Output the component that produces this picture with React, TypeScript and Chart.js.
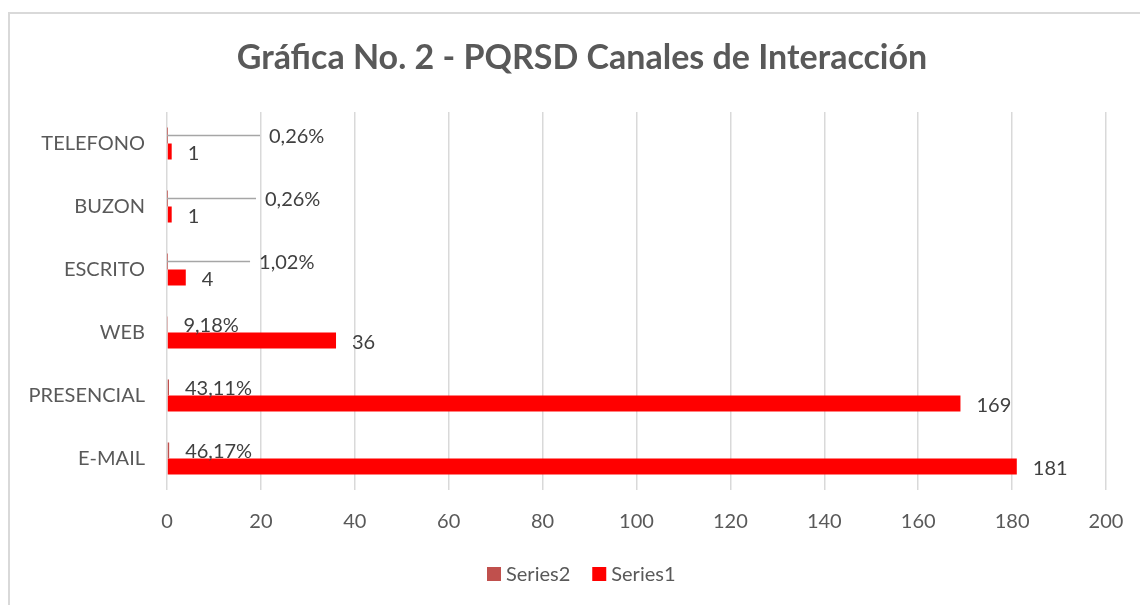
import React, { useEffect, useRef } from 'react';
import { Chart, registerables } from 'chart.js';

Chart.register(...registerables);

const categories = ['TELEFONO', 'BUZON', 'ESCRITO', 'WEB', 'PRESENCIAL', 'E-MAIL'];
const series1Values = [1, 1, 4, 36, 169, 181];
const series2Values = [0.0026, 0.0026, 0.0102, 0.0918, 0.4311, 0.4617];
const seriesNames = ['Series2', 'Series1'];
const xMin = 0;
const xMax = 200;
const xStep = 20;
const chartTitle = 'Gráfica No. 2 - PQRSD Canales de Interacción';

const FONT = 'Lato, "Noto Sans", sans-serif';
const TEXT = '#595959';
const LABEL = '#404040';
const COLORS = ['#C0504D', '#FF0000'];
const W = 1140;
const H = 605;

const fmtPct = (v: number) => (v * 100).toFixed(2).replace('.', ',') + '%';

const decorPlugin = {
  id: 'decor',
  beforeDraw(chart: any) {
    const ctx = chart.ctx;
    ctx.save();
    ctx.fillStyle = '#ffffff';
    ctx.fillRect(0, 0, W, H);
    ctx.strokeStyle = '#d9d9d9';
    ctx.lineWidth = 2;
    ctx.beginPath();
    ctx.moveTo(9, H);
    ctx.lineTo(9, 13);
    ctx.lineTo(W, 13);
    ctx.stroke();

    ctx.fillStyle = TEXT;
    ctx.font = `bold 34px ${FONT}`;
    ctx.textAlign = 'center';
    ctx.textBaseline = 'middle';
    ctx.fillText(chartTitle, 582, 58);

    // legend
    ctx.font = `20px ${FONT}`;
    ctx.textAlign = 'left';
    let x = 487;
    const y = 574;
    chart.data.datasets.forEach((ds: any) => {
      ctx.fillStyle = ds.backgroundColor;
      ctx.fillRect(x, y - 7, 14, 14);
      x += 19;
      ctx.fillStyle = TEXT;
      ctx.fillText(ds.label, x, y + 1);
      x += ctx.measureText(ds.label).width + 22;
    });
    ctx.restore();
  },
  afterDatasetsDraw(chart: any, _args: any, opts: any) {
    const ctx = chart.ctx;
    const shifts: number[] = opts.pctShift || [];
    ctx.save();
    ctx.font = `20px ${FONT}`;
    ctx.textAlign = 'left';
    ctx.textBaseline = 'middle';
    ctx.fillStyle = LABEL;
    // Series1 labels (dataset 1)
    const m1 = chart.getDatasetMeta(1);
    m1.data.forEach((el: any, i: number) => {
      ctx.fillStyle = LABEL;
      ctx.fillText(String(chart.data.datasets[1].data[i]), el.x + 16, el.y + 2);
    });
    // Series2 labels (dataset 0)
    const m0 = chart.getDatasetMeta(0);
    m0.data.forEach((el: any, i: number) => {
      const v = chart.data.datasets[0].data[i] as number;
      const shift = shifts[i] || 0;
      let lx = el.x + 16;
      if (shift) {
        lx = el.x + shift;
        ctx.strokeStyle = '#a6a6a6';
        ctx.lineWidth = 1.5;
        ctx.beginPath();
        ctx.moveTo(el.x, el.y);
        ctx.lineTo(lx - 9, el.y);
        ctx.stroke();
      }
      ctx.fillStyle = LABEL;
      ctx.fillText(fmtPct(v), lx, el.y + 1);
    });
    ctx.restore();
  },
};

export default function App() {
  const ref = useRef<HTMLCanvasElement>(null);
  useEffect(() => {
    if (!ref.current) return;
    const chart = new Chart(ref.current, {
      type: 'bar',
      data: {
        labels: categories,
        datasets: [
          {
            label: seriesNames[0],
            data: series2Values,
            backgroundColor: COLORS[0],
            borderWidth: 0,
            categoryPercentage: 0.508,
            barPercentage: 1,
          },
          {
            label: seriesNames[1],
            data: series1Values,
            backgroundColor: COLORS[1],
            borderWidth: 0,
            categoryPercentage: 0.508,
            barPercentage: 1,
          },
        ],
      },
      options: {
        indexAxis: 'y',
        responsive: false,
        animation: false,
        devicePixelRatio: 1,
        layout: { padding: { left: 0, right: 34, top: 112, bottom: 65 } },
        scales: {
          x: {
            min: xMin,
            max: xMax,
            ticks: { stepSize: xStep, color: TEXT, font: { family: FONT, size: 20 }, padding: 20 },
            grid: { color: '#d9d9d9', lineWidth: 1.5, drawTicks: false },
            border: { display: false },
            afterFit: (s: any) => {
              s.height = 50;
              s.paddingRight = 0;
              s.paddingLeft = 0;
            },
          },
          y: {
            ticks: { color: TEXT, font: { family: FONT, size: 20 }, padding: 22 },
            grid: { display: false, drawTicks: false },
            border: { display: false },
            afterFit: (s: any) => {
              s.width = 167;
            },
          },
        },
        plugins: {
          legend: { display: false },
          title: { display: false },
          tooltip: { enabled: false },
          decor: { pctShift: [102, 98, 92, 0, 0, 0] },
        } as any,
      },
      plugins: [decorPlugin],
    });
    return () => chart.destroy();
  }, []);
  return (
    <canvas
      ref={ref}
      width={W}
      height={H}
      style={{ position: 'absolute', left: 0, top: 0, display: 'block' }}
    />
  );
}
